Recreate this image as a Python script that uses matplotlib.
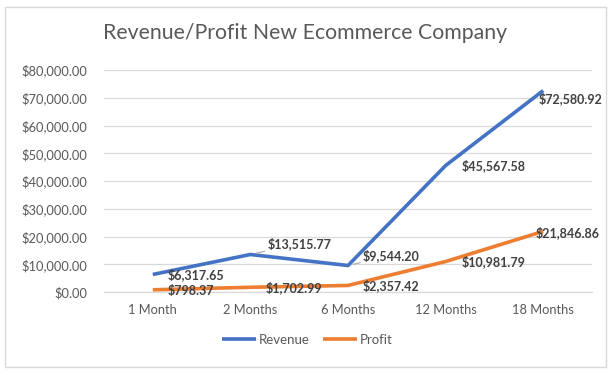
import matplotlib
matplotlib.use("Agg")
import matplotlib.pyplot as plt
from matplotlib.patches import Rectangle
from matplotlib.ticker import FuncFormatter

categories = ["1 Month", "2 Months", "6 Months", "12 Months", "18 Months"]
revenue = [6317.65, 13515.77, 9544.20, 45567.58, 72580.92]
profit = [798.37, 1702.99, 2357.42, 10981.79, 21846.86]
yticks = [0, 10000, 20000, 30000, 40000, 50000, 60000, 70000, 80000]

FONT = ["Lato", "DejaVu Sans"]
plt.rcParams['font.family'] = FONT

W, H = 613, 375
fig = plt.figure(figsize=(W / 100, H / 100), dpi=100)
fig.patch.set_facecolor("white")

# plot area in pixels: x 104..592, y 70..292
left, right, top, bottom = 104, 592, 70, 292
ax = fig.add_axes([left / W, 1 - bottom / H, (right - left) / W, (bottom - top) / H])

x = list(range(len(categories)))
blue = "#4472C4"
orange = "#ED7D31"
ax.plot(x, revenue, color=blue, lw=2.6, solid_capstyle="butt", label="Revenue", zorder=3)
ax.plot(x, profit, color=orange, lw=2.6, solid_capstyle="butt", label="Profit", zorder=3)

ax.set_xlim(-0.5, len(categories) - 0.5)
ax.set_ylim(0, 80000)
ax.set_yticks(yticks)
ax.yaxis.set_major_formatter(FuncFormatter(lambda v, p: "${:,.2f}".format(v)))
ax.set_xticks(x)
ax.set_xticklabels(categories)
ax.grid(axis="y", color="#D9D9D9", lw=0.9)
ax.set_axisbelow(True)
for s in ["top", "right", "left"]:
    ax.spines[s].set_visible(False)
ax.spines["bottom"].set_color("#D9D9D9")
ax.spines["bottom"].set_linewidth(0.9)
ax.tick_params(axis="both", length=0, colors="#595959", labelsize=9.3)
ax.tick_params(axis="y", pad=12)
ax.tick_params(axis="x", pad=9)

lab_kw = dict(textcoords="offset pixels", fontsize=9, fontweight="bold",
              color="#404040", va="center", ha="left", zorder=4)
rev_offsets = [(15, 0), (17, 11), (15, 10), (16, 0), (-5, -8)]
prof_offsets = [(15, -1), (15, 0), (15, 0), (16, 0), (-8, -1)]
for i, v in enumerate(revenue):
    ox, oy = rev_offsets[i]
    kw = dict(lab_kw)
    if i in (1, 2):
        kw["arrowprops"] = dict(arrowstyle="-", color="#A6A6A6", lw=0.8,
                                shrinkA=0, shrinkB=4)
    ax.annotate("${:,.2f}".format(v), (i, v), xytext=(ox, oy), **kw)
for i, v in enumerate(profit):
    ox, oy = prof_offsets[i]
    ax.annotate("${:,.2f}".format(v), (i, v), xytext=(ox, oy), **lab_kw)

fig.text(305 / W, 1 - 33 / H, "Revenue/Profit New Ecommerce Company",
         ha="center", va="center", fontsize=15.3, color="#595959")

leg = fig.legend(loc="center", bbox_to_anchor=(307 / W, 1 - 340 / H), ncol=2,
                 frameon=False, fontsize=9.5, handlelength=2.6, handletextpad=0.2,
                 columnspacing=1.0)
for t in leg.get_texts():
    t.set_color("#595959")

fig.patches.append(Rectangle((5 / W, 1 - 367 / H), 601 / W, 360 / H,
                             transform=fig.transFigure, fill=False,
                             edgecolor="#D9D9D9", lw=1))

fig.savefig("out.png", dpi=100, facecolor="white")
